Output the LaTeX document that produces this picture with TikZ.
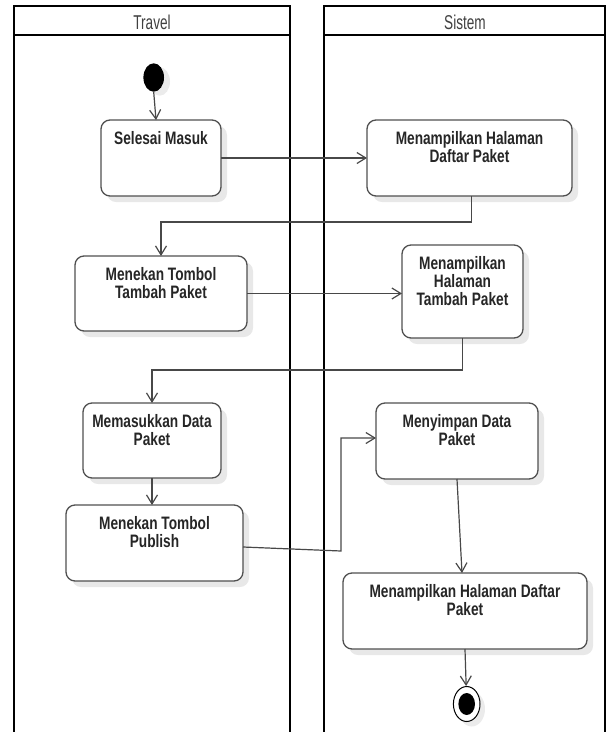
\documentclass[tikz,border=0pt]{standalone}
\usepackage{fontspec}
\newfontfamily\actfont[FakeStretch=0.76]{Liberation Sans}
\newfontfamily\lanefont[FakeStretch=0.68]{Liberation Sans}
\usetikzlibrary{arrows.meta,shadows,shapes.geometric}
\definecolor{boxline}{HTML}{505050}
\definecolor{flowline}{HTML}{484848}
\definecolor{txt}{HTML}{262626}
\definecolor{lanetxt}{HTML}{404040}
\tikzset{
  act/.style={draw=boxline, line width=1.3pt, rounded corners=9pt, fill=white,
    anchor=north west, inner sep=0pt, outer sep=0pt,
    drop shadow={shadow xshift=6pt, shadow yshift=-6pt, fill=black!9, opacity=1}},
  lbl/.style={anchor=north, inner sep=0pt, align=center, text=txt,
    font=\actfont\bfseries\fontsize{18}{18}\selectfont},
  lanehead/.style={inner sep=0pt, text=lanetxt, font=\lanefont\fontsize{20}{20}\selectfont},
  flow/.style={draw=flowline, line width=1.2pt, -{Straight Barb[length=9pt,width=11pt,line width=1.2pt]}},
  lane/.style={draw=black, line width=2pt}
}
\begin{document}
\begin{tikzpicture}[x=1pt,y=-1pt]
\useasboundingbox (0,0) rectangle (610,732);

% swimlanes
\draw[lane] (14,740) -- (14,6) -- (290,6) -- (290,740);
\draw[lane] (14,35) -- (290,35);
\draw[lane] (324,740) -- (324,6) -- (605,6) -- (605,740);
\draw[lane] (324,35) -- (605,35);
\node[lanehead] (laneT) at (152,22) {Travel};
\node[lanehead] (laneS) at (465,22) {Sistem};

% start node
\node[ellipse, fill=black, minimum width=20.6pt, minimum height=28.4pt, inner sep=0pt,
  drop shadow={shadow xshift=6pt, shadow yshift=-4pt, fill=black!8, opacity=1}] (init) at (153.7,77.5) {};

% activities
\node[act, minimum width=120pt, minimum height=76pt] (a1) at (101,120) {};
\node[lbl, yshift=-11pt] (a1t) at (a1.north) {Selesai Masuk};

\node[act, minimum width=205pt, minimum height=76pt] (b1) at (367,120) {};
\node[lbl, yshift=-11pt] (b1t) at (b1.north) {Menampilkan Halaman\\Daftar Paket};

\node[act, minimum width=172pt, minimum height=75pt] (a2) at (75,256) {};
\node[lbl, yshift=-11pt] (a2t) at (a2.north) {Menekan Tombol\\Tambah Paket};

\node[act, minimum width=121pt, minimum height=93pt] (b2) at (402,245) {};
\node[lbl, yshift=-11pt] (b2t) at (b2.north) {Menampilkan\\Halaman\\Tambah Paket};

\node[act, minimum width=138pt, minimum height=75pt] (a3) at (83,403) {};
\node[lbl, yshift=-11pt] (a3t) at (a3.north) {Memasukkan Data\\Paket};

\node[act, minimum width=177pt, minimum height=76pt] (a4) at (66,505) {};
\node[lbl, yshift=-11pt] (a4t) at (a4.north) {Menekan Tombol\\Publish};

\node[act, minimum width=162pt, minimum height=76pt] (b3) at (376,403) {};
\node[lbl, yshift=-11pt] (b3t) at (b3.north) {Menyimpan Data\\Paket};

\node[act, minimum width=244pt, minimum height=76pt] (b4) at (343,573) {};
\node[lbl, yshift=-11pt] (b4t) at (b4.north) {Menampilkan Halaman Daftar\\Paket};

% final node
\node[ellipse, draw=black, line width=1pt, fill=white, minimum width=26.6pt, minimum height=35pt,
  inner sep=0pt, drop shadow={shadow xshift=5pt, shadow yshift=-5pt, fill=black!8, opacity=1}] (fin) at (466.7,704) {};
\fill[black] (fin.center) ellipse [x radius=8.3pt, y radius=11pt];

% control flow
\coordinate (bend) at (341,551);
\draw[flow] (init.south) -- ([xshift=-5pt]a1.north);
\draw[flow] (a1.east) -- (a1.east -| b1.west);
\draw[flow] ([xshift=2pt]b1.south) -- ++(0,26) -| (a2.north);
\draw[flow] (a2.east) -- (a2.east -| b2.west);
\draw[flow] (b2.south) -- ++(0,32) -| (a3.north);
\draw[flow] (a3.south) -- (a3.south |- a4.north);
\draw[flow] ([yshift=-4pt]a4.east) -- (bend) |- ([yshift=3pt]b3.west);
\draw[flow] (b3.south) -- ([xshift=-3pt]b4.north);
\draw[flow] (b4.south) -- (fin);
\end{tikzpicture}
\end{document}
